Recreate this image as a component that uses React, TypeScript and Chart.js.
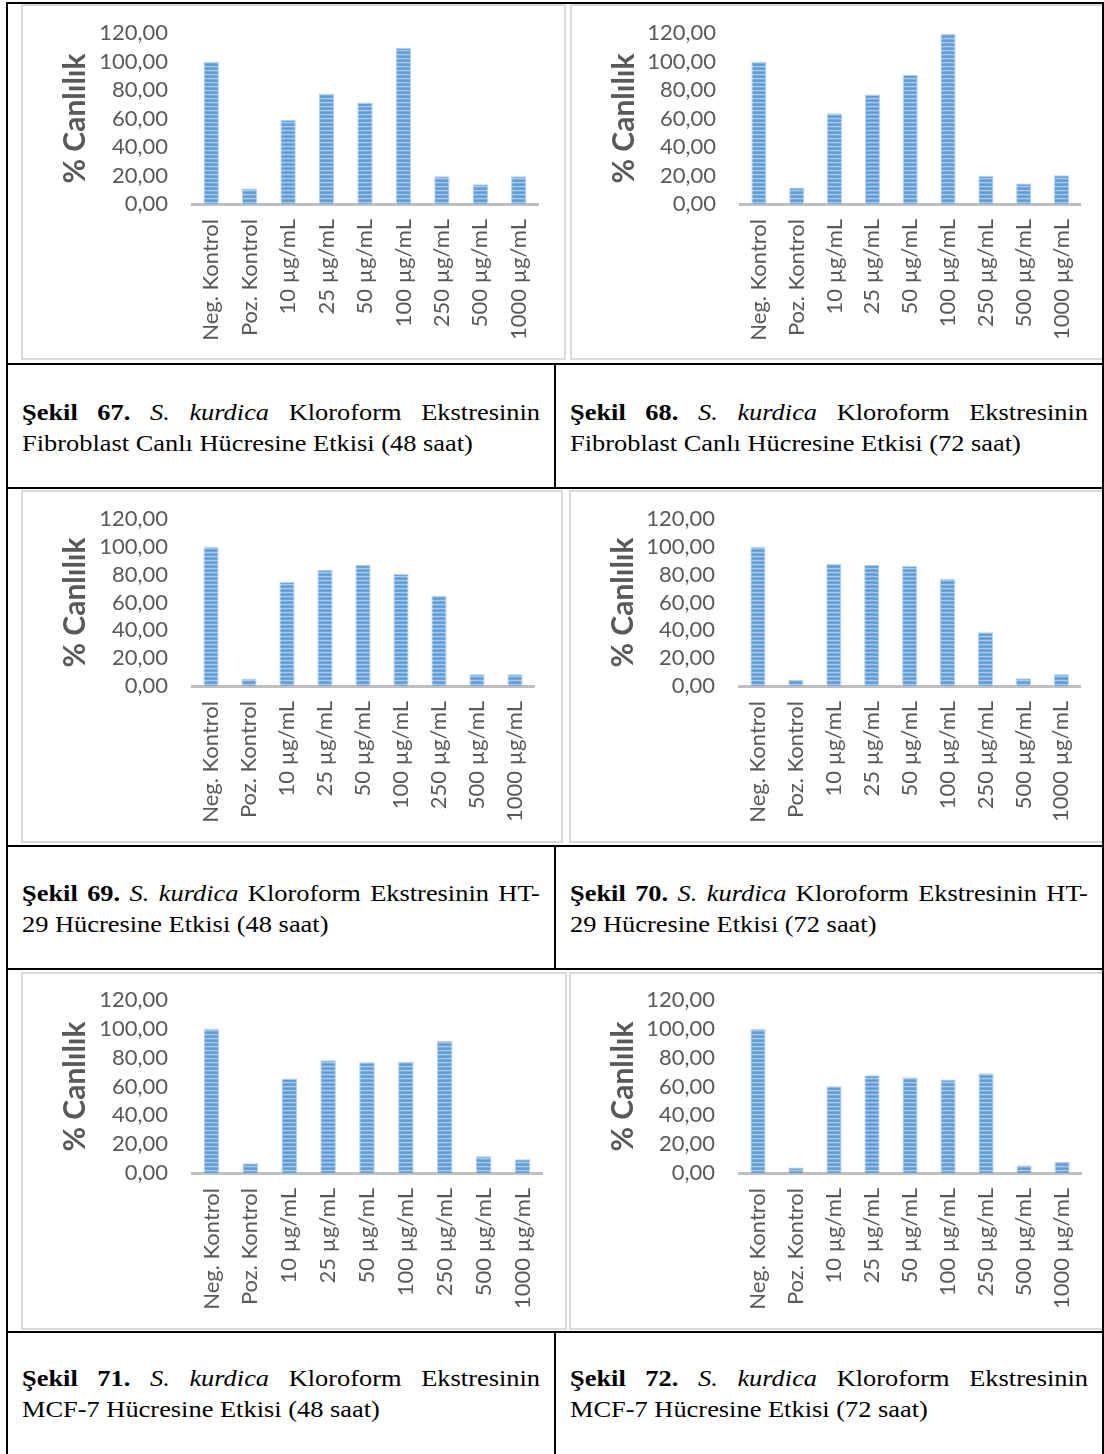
import React, { useEffect, useRef } from "react";
import { Chart, registerables } from "chart.js";

Chart.register(...registerables);

// Categories shared by every panel
const CATEGORIES = [
  "Neg. Kontrol",
  "Poz. Kontrol",
  "10 µg/mL",
  "25 µg/mL",
  "50 µg/mL",
  "100 µg/mL",
  "250 µg/mL",
  "500 µg/mL",
  "1000 µg/mL",
];

// % viability per category
const FIBROBLAST_48H = [100, 10.8, 59.1, 77.5, 71.2, 109.4, 19.5, 13.8, 19.5];
const FIBROBLAST_72H = [100, 11.5, 63.6, 76.8, 90.5, 119.3, 19.7, 14.3, 20.2];
const HT29_48H = [100, 5.2, 74.7, 83.5, 86.9, 80.4, 64.7, 8.4, 8.4];
const HT29_72H = [100, 4.3, 87.6, 86.9, 86.2, 76.8, 38.7, 5.5, 8.4];
const MCF7_48H = [100, 6.7, 65.5, 78.2, 76.9, 77.3, 91.7, 11.6, 9.5];
const MCF7_72H = [100, 3.9, 60.2, 67.8, 66.4, 64.8, 69.2, 5.3, 7.6];

const Y_MIN = 0;
const Y_MAX = 120;
const Y_STEP = 20;
const Y_TITLE = "% Canlılık";

// Caption texts: figure number, extract text of line 1, line 2
const CAPTION_NUMBERS = ["67.", "68.", "69.", "70.", "71.", "72."];
const CAPTION_LINE1_TAILS = [
  "Kloroform Ekstresinin",
  "Kloroform Ekstresinin",
  "Kloroform Ekstresinin HT-",
  "Kloroform Ekstresinin HT-",
  "Kloroform Ekstresinin",
  "Kloroform Ekstresinin",
];
const CAPTION_LINE2 = [
  "Fibroblast Canlı Hücresine Etkisi (48 saat)",
  "Fibroblast Canlı Hücresine Etkisi (72 saat)",
  "29 Hücresine Etkisi (48 saat)",
  "29 Hücresine Etkisi (72 saat)",
  "MCF-7 Hücresine Etkisi (48 saat)",
  "MCF-7 Hücresine Etkisi (72 saat)",
];

const SERIES = [FIBROBLAST_48H, FIBROBLAST_72H, HT29_48H, HT29_72H, MCF7_48H, MCF7_72H];

// Page layout of the chart frames and their plot areas (in frame coordinates)
type Box = { x: number; y: number; w: number; h: number };
type Plot = { left: number; right: number; top: number; bottom: number };
const FRAMES: Box[] = [
  { x: 21, y: 4, w: 545, h: 356 },
  { x: 570, y: 4, w: 540, h: 356 },
  { x: 21, y: 490, w: 542, h: 353 },
  { x: 569, y: 490, w: 540, h: 353 },
  { x: 21, y: 972, w: 546, h: 358 },
  { x: 569, y: 972, w: 540, h: 358 },
];
const PLOTS: Plot[] = [
  { left: 171, right: 517, top: 29, bottom: 200 },
  { left: 170, right: 515, top: 29, bottom: 200 },
  { left: 171, right: 513, top: 29, bottom: 196 },
  { left: 170, right: 513, top: 29, bottom: 196 },
  { left: 171, right: 521, top: 28, bottom: 201 },
  { left: 170, right: 526, top: 28, bottom: 201 },
];

const CAPTION_TOPS = [397, 397, 878, 878, 1363, 1363];
const CAPTION_LEFTS = [22, 570, 22, 570, 22, 570];

const TEXT_GREY = "#595959";
const CHART_FONT = "Lato, 'Open Sans', sans-serif";

function stripePattern(ctx: CanvasRenderingContext2D): CanvasPattern | string {
  const tile = document.createElement("canvas");
  tile.width = 4;
  tile.height = 4;
  const t = tile.getContext("2d");
  if (!t) return "#5b9bd5";
  const rows = ["#5b9bd5", "#6aa5dc", "#a9c9ea", "#78abdf"];
  rows.forEach((c, i) => {
    t.fillStyle = c;
    t.fillRect(0, i, 4, 1);
  });
  return ctx.createPattern(tile, "repeat") || "#5b9bd5";
}

function fmt(v: number | string): string {
  return Number(v).toFixed(2).replace(".", ",");
}

function BarPanel({ index }: { index: number }) {
  const ref = useRef<HTMLCanvasElement | null>(null);
  const frame = FRAMES[index];
  const plot = PLOTS[index];
  const cw = index % 2 === 1 ? 1104 - frame.x : frame.w;

  useEffect(() => {
    const canvas = ref.current;
    if (!canvas) return;
    const ctx = canvas.getContext("2d");
    if (!ctx) return;
    const fill = stripePattern(ctx);
    const chart = new Chart(canvas, {
      type: "bar",
      data: {
        labels: CATEGORIES,
        datasets: [
          {
            data: SERIES[index],
            backgroundColor: fill as any,
            borderColor: "#b4d0ee",
            borderWidth: 1,
            categoryPercentage: 1,
            barPercentage: 0.4,
          },
        ],
      },
      options: {
        responsive: false,
        animation: false,
        devicePixelRatio: 1,
        layout: {
          padding: { top: plot.top, right: cw - plot.right, left: 0, bottom: 0 },
        },
        plugins: {
          legend: { display: false },
          tooltip: { enabled: false },
        },
        scales: {
          x: {
            z: 1,
            grid: { display: false, drawTicks: false },
            border: { display: true, color: "#bfbfbf", width: 3 },
            ticks: {
              autoSkip: false,
              minRotation: 90,
              maxRotation: 90,
              padding: 15,
              color: TEXT_GREY,
              font: { family: CHART_FONT, size: 22 },
            },
            afterFit: (s: any) => {
              s.height = frame.h - plot.bottom;
            },
          },
          y: {
            min: Y_MIN,
            max: Y_MAX,
            grid: { display: false, drawTicks: false },
            border: { display: false },
            ticks: {
              stepSize: Y_STEP,
              autoSkip: false,
              padding: 24,
              color: TEXT_GREY,
              font: { family: CHART_FONT, size: 22 },
              callback: (v: any) => fmt(v),
            },
            title: {
              display: true,
              text: Y_TITLE,
              color: TEXT_GREY,
              font: { family: CHART_FONT, size: 30, weight: "bold" },
              padding: { top: 36, bottom: 0 },
            },
            afterFit: (s: any) => {
              s.width = plot.left;
              // the plot edges come from the layout padding alone
              s.paddingTop = 0;
              s.paddingBottom = 0;
            },
          },
        },
      } as any,
    });
    return () => chart.destroy();
  }, [index]);

  return (
    <div
      style={{
        position: "absolute",
        left: frame.x,
        top: frame.y,
        width: frame.w,
        height: frame.h,
        border: "2px solid #d9d9d9",
        boxSizing: "border-box",
      }}
    >
      <canvas
        ref={ref}
        width={cw}
        height={frame.h}
        style={{ position: "absolute", left: -2, top: -2 }}
      />
    </div>
  );
}

const CAPTION_WIDTH = 518;
const STRETCH = 1.1;

function Caption({ index }: { index: number }) {
  const words: { t: string; b?: boolean; i?: boolean }[] = [
    { t: "Şekil", b: true },
    { t: CAPTION_NUMBERS[index], b: true },
    { t: "S.", i: true },
    { t: "kurdica", i: true },
    ...CAPTION_LINE1_TAILS[index].split(" ").map((t) => ({ t })),
  ];
  const inner = CAPTION_WIDTH / STRETCH;
  return (
    <div
      style={{
        position: "absolute",
        left: CAPTION_LEFTS[index],
        top: CAPTION_TOPS[index],
        width: inner,
        transform: `scaleX(${STRETCH})`,
        transformOrigin: "left top",
        fontFamily: "'Liberation Serif', Tinos, 'Times New Roman', Times, serif",
        fontSize: 24,
        lineHeight: "31px",
        color: "#000",
        whiteSpace: "nowrap",
      }}
    >
      <div style={{ display: "flex", justifyContent: "space-between" }}>
        {words.map((w, k) => (
          <span
            key={k}
            style={{ fontWeight: w.b ? "bold" : "normal", fontStyle: w.i ? "italic" : "normal" }}
          >
            {w.t}
          </span>
        ))}
      </div>
      <div>{CAPTION_LINE2[index]}</div>
    </div>
  );
}

function Rule({ x, y, w, h }: { x: number; y: number; w: number; h: number }) {
  return (
    <div style={{ position: "absolute", left: x, top: y, width: w, height: h, background: "#000" }} />
  );
}

export default function App() {
  const hLines = [2, 363, 487, 845, 968, 1331];
  const captionRows = [
    [363, 489],
    [845, 970],
    [1331, 1454],
  ];
  return (
    <div
      style={{
        position: "absolute",
        left: 0,
        top: 0,
        width: 1104,
        height: 1454,
        overflow: "hidden",
        background: "#fff",
      }}
    >
      {SERIES.map((_, i) => (
        <BarPanel key={`p${i}`} index={i} />
      ))}
      {SERIES.map((_, i) => (
        <Caption key={`c${i}`} index={i} />
      ))}
      {hLines.map((y) => (
        <Rule key={`h${y}`} x={6} y={y} w={1098} h={2} />
      ))}
      <Rule x={6} y={2} w={2} h={1452} />
      <Rule x={1102} y={2} w={2} h={1452} />
      {captionRows.map(([a, b]) => (
        <Rule key={`v${a}`} x={554} y={a} w={2} h={b - a} />
      ))}
    </div>
  );
}
